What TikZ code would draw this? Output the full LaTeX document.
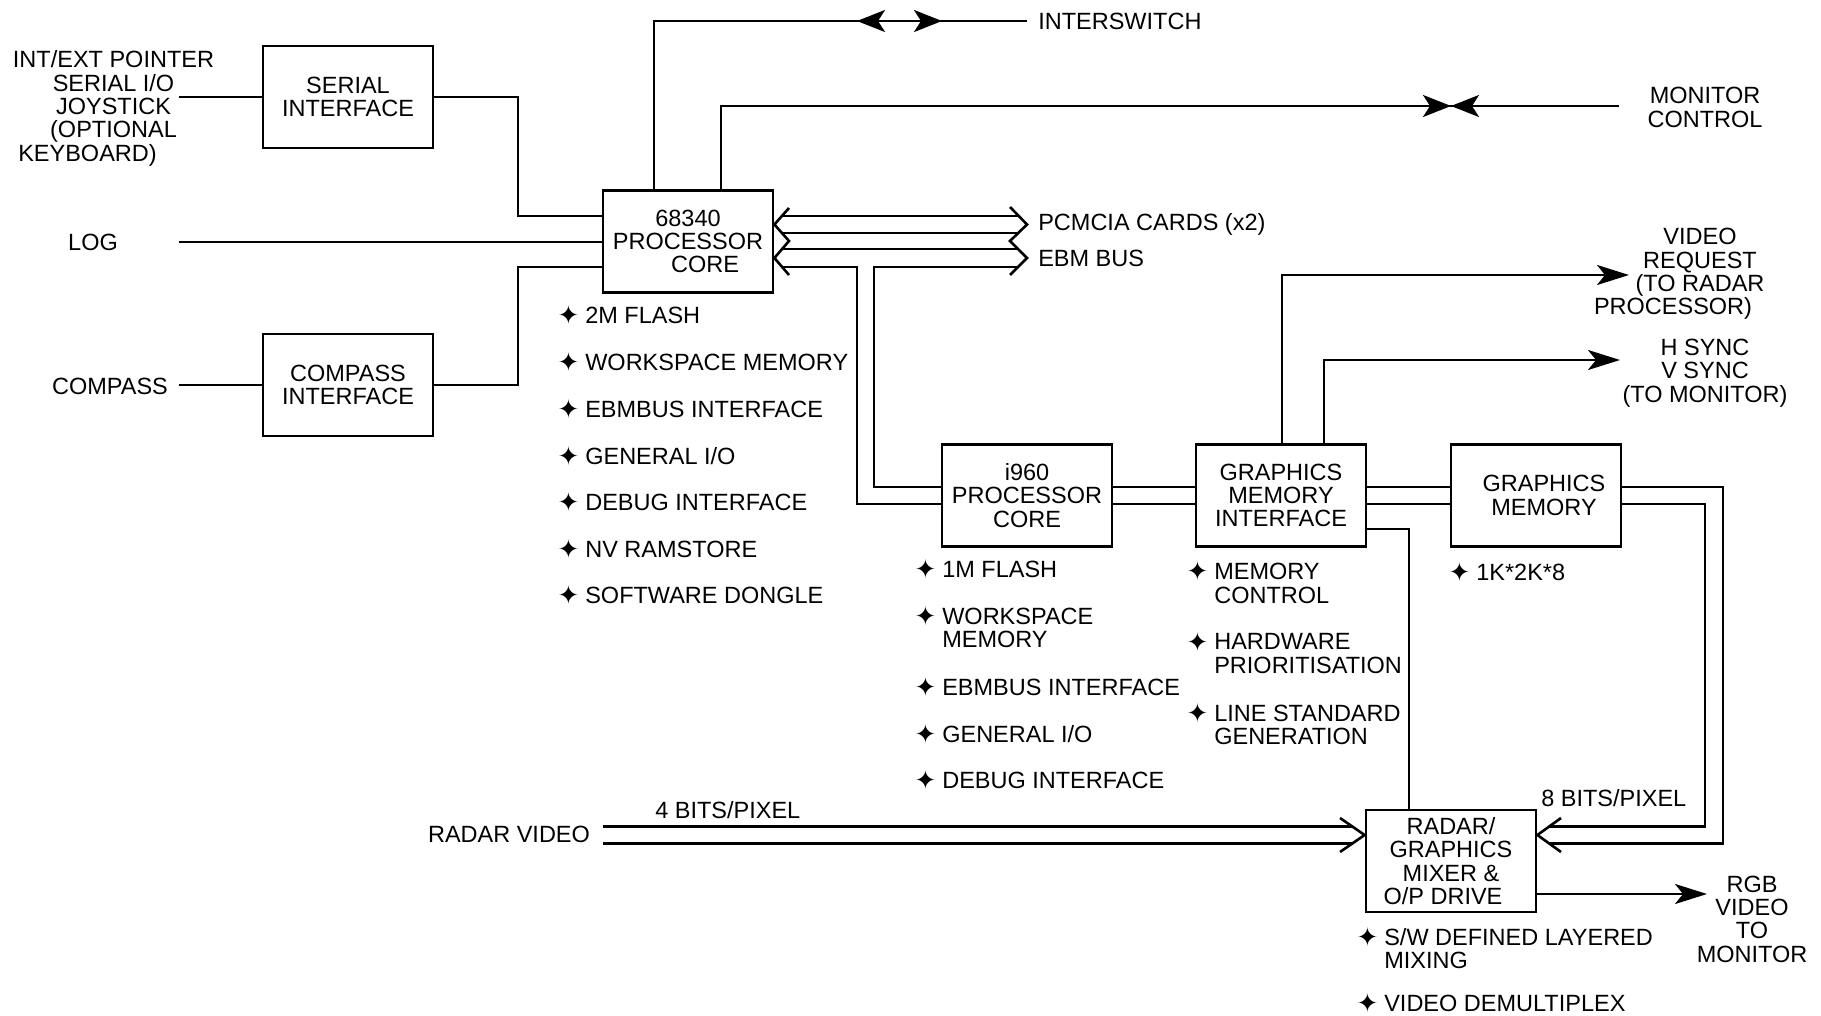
\documentclass[tikz,border=0pt]{standalone}
\usepackage{fontspec}
\setmainfont{Liberation Sans}
\newfontfamily\symfont{DejaVu Sans}
\usetikzlibrary{arrows.meta,calc}
\newcommand\mybul{\llap{\smash{\raisebox{-0.6pt}{\symfont\fontsize{13}{13}\selectfont ✦}}\hspace{3pt}}}
\begin{document}
\begin{tikzpicture}[x=0.5pt,y=-0.5pt,
  font=\fontsize{11.75}{11.65}\selectfont,
  line width=1.3pt,
  box/.style={draw,line width=1.4pt,minimum width=85pt,minimum height=51pt,inner sep=0pt,align=center},
  lbl/.style={inner sep=0pt,align=center},
  item/.style={inner sep=0pt,anchor=north west,align=left},
  tipa/.style={-{Stealth[length=16pt,width=10pt,inset=4pt]}},
  tipb/.style={-{Stealth[length=14pt,width=11pt,inset=3.5pt]}},
  tipc/.style={{Stealth[length=14pt,width=11pt,inset=3.5pt]}-{Stealth[length=14pt,width=11pt,inset=3.5pt]}}]
\useasboundingbox (0,0) rectangle (1821,1016);

% boxes
\node[box] (serial) at (348,97) {SERIAL\\INTERFACE};
\node[box] (compass) at (348,385) {COMPASS\\INTERFACE};
\node[box] (core) at (688,241.5) {68340\\PROCESSOR\\\hspace*{17pt}CORE};
\node[box] (i960) at (1027,495.5) {i960\\PROCESSOR\\CORE};
\node[box] (gmi) at (1281,495.5) {GRAPHICS\\MEMORY\\INTERFACE};
\node[box] (gm) at (1536,495.5) {\hspace*{8pt}GRAPHICS\\\hspace*{8pt}MEMORY};
\node[box] (mix) at (1451,861) {RADAR/\\GRAPHICS\\MIXER \&\\O/P DRIVE\hspace*{8pt}};

% external labels
\node[lbl] (ptr) at (113.5,108.5) {INT/EXT POINTER\\SERIAL I/O\\JOYSTICK\\(OPTIONAL\\KEYBOARD)\hspace*{26pt}};
\node[lbl] (log) at (93,242) {LOG};
\node[lbl] (comp) at (110,386) {COMPASS};
\node[lbl,anchor=west] (isw) at (1037,21) {INTERSWITCH};
\node[lbl] (monc) at (1705,107.5) {MONITOR\\CONTROL};
\node[lbl,anchor=west] (pcm) at (1037,224) {PCMCIA CARDS (x2)};
\node[lbl,anchor=west] (ebm) at (1037,258) {EBM BUS};
\node[lbl] (vreq) at (1700,274) {VIDEO\\REQUEST\\(TO RADAR\\PROCESSOR)\hspace*{27pt}};
\node[lbl] (hsync) at (1705,373) {H SYNC\\V SYNC\\(TO MONITOR)};
\node[lbl] (radv) at (509,834) {RADAR VIDEO};
\node[lbl,anchor=west] (bits4) at (654,810) {4 BITS/PIXEL};
\node[lbl,anchor=west] (bits8) at (1540,798) {8 BITS/PIXEL};
\node[lbl] (rgb) at (1752,919) {RGB\\VIDEO\\TO\\MONITOR};

% bullet lists
\node[item] (a1) at (584,305.5) {\mybul 2M FLASH};
\node[item] (a2) at (584,353) {\mybul WORKSPACE MEMORY};
\node[item] (a3) at (584,399.5) {\mybul EBMBUS INTERFACE};
\node[item] (a4) at (584,446) {\mybul GENERAL I/O};
\node[item] (a5) at (584,493) {\mybul DEBUG INTERFACE};
\node[item] (a6) at (584,539.5) {\mybul NV RAMSTORE};
\node[item] (a7) at (584,586) {\mybul SOFTWARE DONGLE};

\node[item] (b1) at (941,560) {\mybul 1M FLASH};
\node[item] (b2) at (941,606.5) {\mybul WORKSPACE\\MEMORY};
\node[item] (b3) at (941,678) {\mybul EBMBUS INTERFACE};
\node[item] (b4) at (941,724) {\mybul GENERAL I/O};
\node[item] (b5) at (941,771) {\mybul DEBUG INTERFACE};

\node[item] (g1) at (1213,562) {\mybul MEMORY\\CONTROL};
\node[item] (g2) at (1213,632.5) {\mybul HARDWARE\\PRIORITISATION};
\node[item] (g3) at (1213,703.5) {\mybul LINE STANDARD\\GENERATION};

\node[item] (m1) at (1475,562.5) {\mybul 1K*2K*8};

\node[item] (x1) at (1383,927) {\mybul S/W DEFINED LAYERED\\MIXING};
\node[item] (x2) at (1383,993.5) {\mybul VIDEO DEMULTIPLEX};

% free ends
\coordinate (inS) at (179,97);
\coordinate (inL) at (179,242);
\coordinate (inC) at (179,385);
\coordinate (iswE) at (1027,21);
\coordinate (moncE) at (1619,106);
\coordinate (vreqE) at (1629,275);
\coordinate (hsE) at (1620,360);
\coordinate (rgbE) at (1707,894);
\coordinate (radA) at (603,826.5);
\coordinate (radB) at (603,843.5);

% left side connectors
\draw (inS) -- (serial.west);
\draw (serial.east) -- (518,97) |- (core.west |- 0,216);
\draw (inL) -- (core.west |- 0,242);
\draw (core.west |- 0,267) -- (518,267) |- (compass.east);
\draw (inC) -- (compass.west);

% top connectors
\draw (core.north -| 654,0) |- (iswE);
\draw[tipc] (857,21) -- (942,21);
\draw (core.north -| 721,0) |- (moncE);
\draw[tipb] (1400,106) -- (1451,106);
\draw[tipb] (1502,106) -- (1451,106);

% PCMCIA / EBM buses
\draw (789,208) -- (core.east |- 0,224.5) -- (789,241) -- (core.east |- 0,258) -- (789,275);
\draw (1010,207) -- (1027,224.5) -- (1010,241) -- (1027,258) -- (1010,275);
\draw (781.2,216) -- (1018.5,216);
\draw (781.2,233) -- (1018.5,233);
\draw (781.5,249) -- (1018.5,249);
\draw (781.5,267) -- (857,267) -- (857,504) -- (i960.west |- 0,504);
\draw (1018.5,267) -- (874,267) -- (874,487) -- (i960.west |- 0,487);

% middle row buses
\draw (i960.east |- 0,487) -- (gmi.west |- 0,487);
\draw (i960.east |- 0,504) -- (gmi.west |- 0,504);
\draw (gmi.east |- 0,487) -- (gm.west |- 0,487);
\draw (gmi.east |- 0,504) -- (gm.west |- 0,504);

% GMI outputs
\draw[tipa] (gmi.north -| 1282,0) |- (vreqE);
\draw[tipa] (gmi.north -| 1324,0) |- (hsE);
\draw (gmi.east |- 0,529) -| (mix.north -| 1409,0);

% graphics memory to mixer (8 bits/pixel)
\draw (gm.east |- 0,487) -- (1723,487) -- (1723,843.5) -- (1548.5,843.5);
\draw (gm.east |- 0,504) -- (1705,504) -- (1705,826.5) -- (1548.5,826.5);
\draw (1561,818) -- (mix.east |- 0,835) -- (1561,852);

% radar video into mixer
\draw (radA) -- (1353,826.5);
\draw (radB) -- (1353,843.5);
\draw (1340,818) -- (mix.west |- 0,835) -- (1340,852);

% RGB out
\draw[tipa] (mix.east |- 0,894) -- (rgbE);
\end{tikzpicture}
\end{document}
